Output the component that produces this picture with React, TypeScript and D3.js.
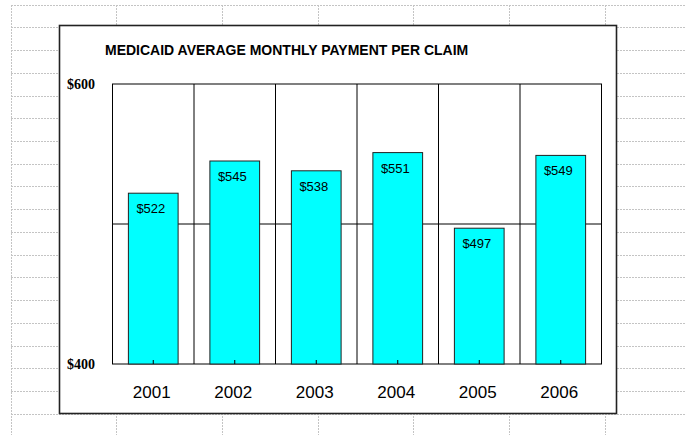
import React from 'react';
import * as d3 from 'd3';

const years = ['2001', '2002', '2003', '2004', '2005', '2006'];
const payments = [522, 545, 538, 551, 497, 549];
const yTicks = [400, 600];
const gridValues = [500];
const title = 'MEDICAID AVERAGE MONTHLY PAYMENT PER CLAIM';

// spreadsheet background
const sheetColumns = [10.5, 116, 222, 317.6, 413, 509, 604.5];
const sheetRowTop = 4.6;
const sheetRowHeight = 22.73;

const W = 686;
const H = 435;

const frame = { left: 59.5, top: 25.5, right: 616.5, bottom: 413.5 };
const plot = { left: 112.5, top: 84, right: 601.5, bottom: 364 };

const App: React.FC = () => {
  const x = d3
    .scaleBand<string>()
    .domain(years)
    .range([plot.left, plot.right])
    .paddingInner(0.39)
    .paddingOuter(0.195);

  const y = d3.scaleLinear().domain([400, 600]).range([plot.bottom, plot.top]);

  const step = (plot.right - plot.left) / years.length;
  const boundaries = d3.range(1, years.length).map((i) => plot.left + i * step);

  const rows = d3.range(0, 20).map((i) => sheetRowTop + i * sheetRowHeight).filter((v) => v < H);

  return (
    <div style={{ position: 'absolute', left: 0, top: 0 }}>
      <svg width={W} height={H} style={{ display: 'block', background: '#fff' }}>
        {/* sheet gridlines */}
        <g stroke="#c4c4c4" strokeWidth={1} strokeDasharray="2,1" shapeRendering="crispEdges">
          {rows.map((r, i) => (
            <line key={'r' + i} x1={sheetColumns[0]} x2={W} y1={Math.round(r) + 0.5} y2={Math.round(r) + 0.5} />
          ))}
          {sheetColumns.map((c, i) => (
            <line key={'c' + i} x1={Math.round(c) + 0.5} x2={Math.round(c) + 0.5} y1={sheetRowTop} y2={H} />
          ))}
        </g>

        {/* chart area */}
        <rect
          x={frame.left}
          y={frame.top}
          width={frame.right - frame.left}
          height={frame.bottom - frame.top}
          fill="#fff"
          stroke="#222"
          strokeWidth={1.6}
        />

        <text
          x={105}
          y={55}
          fontFamily="Arial, 'Liberation Sans', sans-serif"
          fontWeight="bold"
          fontSize={14}
          fill="#000"
        >
          {title}
        </text>

        {/* plot area */}
        <rect
          x={plot.left}
          y={plot.top}
          width={plot.right - plot.left}
          height={plot.bottom - plot.top}
          fill="#fff"
          stroke="#000"
          strokeWidth={1}
        />
        {boundaries.map((b, i) => (
          <line key={'b' + i} x1={b} x2={b} y1={plot.top} y2={plot.bottom} stroke="#000" strokeWidth={1} />
        ))}
        {gridValues.map((v) => (
          <line key={'g' + v} x1={plot.left} x2={plot.right} y1={y(v)} y2={y(v)} stroke="#000" strokeWidth={1} />
        ))}

        {/* bars */}
        {years.map((yr, i) => (
          <g key={yr}>
            <rect
              x={x(yr)}
              y={y(payments[i])}
              width={x.bandwidth()}
              height={plot.bottom - y(payments[i])}
              fill="#00ffff"
              stroke="#222"
              strokeWidth={1}
            />
            <text
              x={(x(yr) as number) + 8}
              y={y(payments[i]) + 20}
              fontFamily="Arial, 'Liberation Sans', sans-serif"
              fontSize={13}
              fill="#000"
            >
              {'$' + payments[i]}
            </text>
            <line
              x1={(x(yr) as number) + x.bandwidth() / 2}
              x2={(x(yr) as number) + x.bandwidth() / 2}
              y1={plot.bottom}
              y2={plot.bottom - 4}
              stroke="#000"
              strokeWidth={1}
            />
            <text
              x={(x(yr) as number) + x.bandwidth() / 2 - 1.5}
              y={398}
              textAnchor="middle"
              fontFamily="Arial, 'Liberation Sans', sans-serif"
              fontSize={17}
              fill="#000"
            >
              {yr}
            </text>
          </g>
        ))}

        {/* y labels */}
        {yTicks.map((t) => (
          <text
            key={'t' + t}
            x={67}
            y={y(t)}
            dy="0.35em"
            fontFamily="'Times New Roman', 'Liberation Serif', serif"
            fontWeight="bold"
            fontSize={14}
            fill="#000"
          >
            {'$' + t}
          </text>
        ))}
      </svg>
    </div>
  );
};

export default App;
